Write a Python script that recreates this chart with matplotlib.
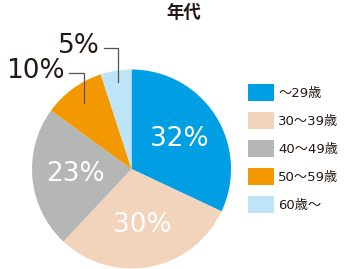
import numpy as np
import matplotlib.pyplot as plt

plt.rcParams['font.family'] = ['DejaVu Sans', 'Noto Sans CJK JP']

labels = ["～29歳", "30～39歳", "40～49歳", "50～59歳", "60歳～"]
values = [32, 30, 23, 10, 5]
colors = ["#009fe3", "#f2d3bb", "#b5b6b6", "#f39800", "#bee4f8"]
title = "年代"

W, H = 350, 269
fig = plt.figure(figsize=(W / 100, H / 100), dpi=100)
ax = fig.add_axes([0, 0, 1, 1])

cx, cy, r = 131.5, 100, 99.5
wedges, _, autotexts = ax.pie(
    values, colors=colors, startangle=90, counterclock=False,
    center=(cx, cy), radius=r, autopct="%d%%", pctdistance=0.57,
    textprops=dict(color="white", fontsize=19, family="DejaVu Sans"),
    wedgeprops=dict(linewidth=0))
ax.set_xlim(0, W)
ax.set_ylim(0, H)
ax.set_aspect("equal")
ax.axis("off")

dark = "#231815"
# small slices: labels outside with elbow leader lines
for i, (rf, top, dx_h) in zip([3, 4], [(0.82, 196, 15), (0.89, 221, 14)]):
    w = wedges[i]
    mid = np.deg2rad((w.theta1 + w.theta2) / 2)
    x0 = cx + rf * r * np.cos(mid)
    y0 = cy + rf * r * np.sin(mid)
    ax.plot([x0, x0, x0 - dx_h], [y0, top, top], color="#555555", lw=0.9)
    autotexts[i].set_position((x0 - dx_h - 4, top + 2))
    autotexts[i].set_ha("right")
    autotexts[i].set_color(dark)

ax.text(184, H - 13, title, ha="center", va="center", fontsize=12.5,
        fontweight="bold", color=dark, family=["Noto Sans CJK JP"])

leg = ax.legend(wedges, labels, loc="upper left", bbox_to_anchor=(248 / W, 1 - 84 / H),
                frameon=False, handlelength=2.0, handleheight=1.65,
                labelspacing=0.8, handletextpad=0.3, borderaxespad=0, borderpad=0,
                prop=dict(family=["DejaVu Sans", "Noto Sans CJK JP"], size=9.5))
for t in leg.get_texts():
    t.set_color(dark)

fig.savefig("out.png", dpi=100)
